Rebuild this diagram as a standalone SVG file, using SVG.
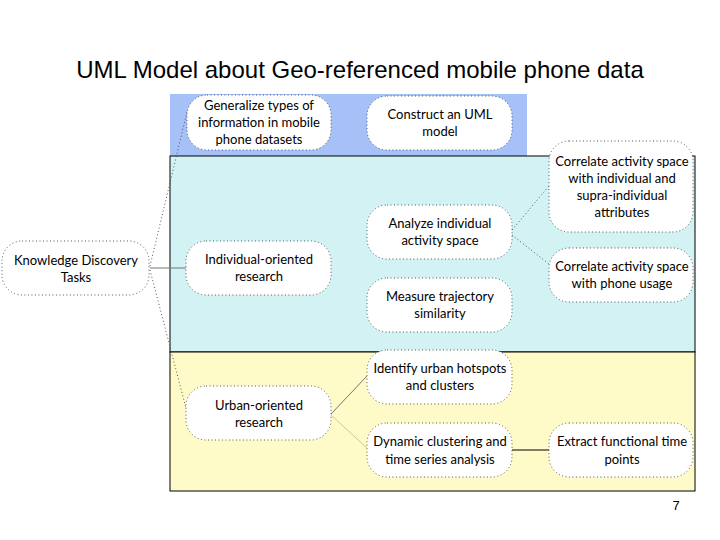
<svg xmlns="http://www.w3.org/2000/svg" width="720" height="540" viewBox="0 0 720 540">
<style>
.n{fill:#fff;stroke:#444;stroke-width:0.9;stroke-dasharray:1 2.5}
.t{font-family:Lato,"Liberation Sans",sans-serif;font-size:13px;fill:#000;text-anchor:middle}
.d{stroke:#444;stroke-width:0.9;stroke-dasharray:1 2.5;fill:none}
</style>
<rect width="720" height="540" fill="#fff"/>
<text x="360" y="78" font-family="Liberation Sans,Arial,sans-serif" font-size="24" text-anchor="middle">UML Model about Geo-referenced mobile phone data</text>
<rect x="170" y="94" width="357" height="62" fill="#a6c0f8"/>
<rect x="170" y="156" width="525" height="196" fill="#d2f2f4" stroke="#000" stroke-width="1"/>
<rect x="170" y="352" width="525" height="139" fill="#fffbc9" stroke="#000" stroke-width="1"/>
<g id="connectors">
<line class="d" x1="150" y1="266" x2="187" y2="112"/>
<line x1="150" y1="268" x2="186" y2="268" stroke="#777" stroke-width="1"/>
<line class="d" x1="150" y1="270" x2="187" y2="412"/>
<line class="d" x1="512" y1="230" x2="549" y2="186"/>
<line class="d" x1="512" y1="235" x2="549" y2="264"/>
<line x1="331" y1="414" x2="367" y2="376" stroke="#666" stroke-width="0.9"/>
<line x1="331" y1="415" x2="367" y2="448" stroke="#c8bf90" stroke-width="0.9"/>
<line x1="512" y1="450" x2="549" y2="450" stroke="#000" stroke-width="1"/>
</g>
<g id="n1"><rect class="n" x="187" y="95" width="144" height="55" rx="20"/><text class="t" x="259" y="110">Generalize types of</text><text class="t" x="259" y="127">information in mobile</text><text class="t" x="259" y="144">phone datasets</text></g>
<g id="n2"><rect class="n" x="367" y="96" width="145" height="54" rx="20"/><text class="t" x="440" y="119">Construct an UML</text><text class="t" x="440" y="136">model</text></g>
<g id="n3"><rect class="n" x="549" y="141" width="144" height="91" rx="20"/><text class="t" x="622" y="166">Correlate activity space</text><text class="t" x="622" y="183">with individual and</text><text class="t" x="622" y="200">supra-individual</text><text class="t" x="622" y="217">attributes</text></g>
<g id="n4"><rect class="n" x="2" y="241" width="147" height="54" rx="20"/><text class="t" x="76" y="265">Knowledge Discovery</text><text class="t" x="76" y="282">Tasks</text></g>
<g id="n5"><rect class="n" x="186" y="241" width="145" height="54" rx="20"/><text class="t" x="259" y="264">Individual-oriented</text><text class="t" x="259" y="281">research</text></g>
<g id="n6"><rect class="n" x="367" y="205" width="145" height="54" rx="20"/><text class="t" x="440" y="228">Analyze individual</text><text class="t" x="440" y="245">activity space</text></g>
<g id="n7"><rect class="n" x="549" y="248" width="144" height="54" rx="20"/><text class="t" x="622" y="271">Correlate activity space</text><text class="t" x="622" y="288">with phone usage</text></g>
<g id="n8"><rect class="n" x="367" y="278" width="145" height="54" rx="20"/><text class="t" x="440" y="301">Measure trajectory</text><text class="t" x="440" y="318">similarity</text></g>
<g id="n9"><rect class="n" x="367" y="350" width="145" height="54" rx="20"/><text class="t" x="440" y="373">Identify urban hotspots</text><text class="t" x="440" y="390">and clusters</text></g>
<g id="n10"><rect class="n" x="186" y="386" width="145" height="54" rx="20"/><text class="t" x="259" y="410">Urban-oriented</text><text class="t" x="259" y="427">research</text></g>
<g id="n11"><rect class="n" x="367" y="423" width="145" height="54" rx="20"/><text class="t" x="440" y="446">Dynamic clustering and</text><text class="t" x="440" y="464">time series analysis</text></g>
<g id="n12"><rect class="n" x="549" y="423" width="144" height="54" rx="20"/><text class="t" x="622" y="446">Extract functional time</text><text class="t" x="622" y="464">points</text></g>
<text x="676" y="510" font-family="Liberation Sans,Arial,sans-serif" font-size="13" text-anchor="middle">7</text>
</svg>
